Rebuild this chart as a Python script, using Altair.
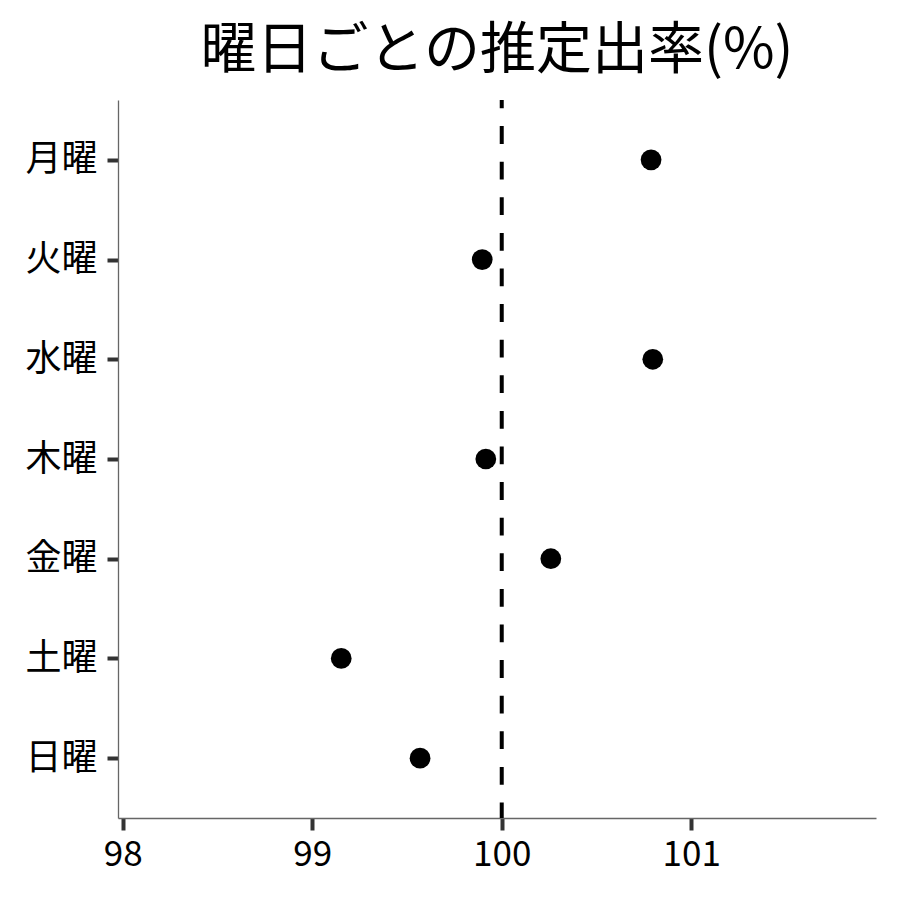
import altair as alt
import pandas as pd

days = ["月曜", "火曜", "水曜", "木曜", "金曜", "土曜", "日曜"]
rates = [100.788, 99.897, 100.797, 99.916, 100.259, 99.153, 99.569]
ref_value = [100]
x_ticks = [98, 99, 100, 101]
x_domain = [97.975, 101.975]

df = pd.DataFrame({"day": days, "rate": rates})
ref = pd.DataFrame({"x": ref_value})

FONT = "Noto Sans CJK JP"

xscale = alt.Scale(domain=x_domain, nice=False, zero=False)

points = alt.Chart(df).mark_circle(size=430, color="black", opacity=1).encode(
    x=alt.X("rate:Q", scale=xscale,
            axis=alt.Axis(values=x_ticks, format="d", title=None, grid=False,
                          labelFontSize=35, labelFont=FONT, labelColor="black",
                          labelPadding=7, tickSize=12, tickWidth=4,
                          tickColor="#333333", domainColor="#666666",
                          domainWidth=1.3, labelFlush=False)),
    y=alt.Y("day:N", sort=days, scale=alt.Scale(type="point", padding=0.6),
            axis=alt.Axis(title=None, grid=False, labelFontSize=36,
                          labelFont=FONT, labelColor="black", labelPadding=10,
                          tickSize=11, tickWidth=4, tickColor="#333333",
                          domainColor="#666666", domainWidth=1.3)),
)

rule = alt.Chart(ref).mark_rule(color="black", strokeWidth=4,
                                strokeDash=[17.8, 17.8],
                                strokeDashOffset=9.5).encode(
    x=alt.X("x:Q", scale=xscale)
)

chart = alt.layer(rule, points).properties(
    width=758,
    height=718,
    background="white",
    padding={"left": 110, "top": 92, "right": 16, "bottom": 74},
    autosize=alt.AutoSizeParams(type="none"),
    title=alt.TitleParams("曜日ごとの推定出率(%)", fontSize=56, font=FONT,
                          fontWeight="normal", color="black",
                          anchor="middle", offset=18),
).configure_view(stroke=None)

chart.save("out.html", embed_options={"renderer": "svg", "actions": False})
